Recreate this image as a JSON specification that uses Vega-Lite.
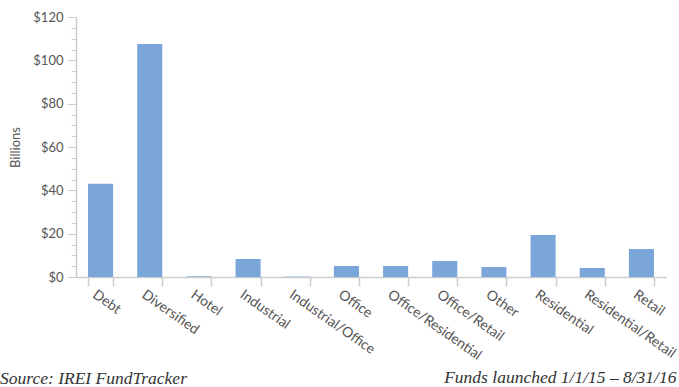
{
  "$schema": "https://vega.github.io/schema/vega-lite/v6.json",
  "width": 590,
  "height": 260,
  "autosize": {"type": "none"},
  "padding": {"left": 76, "top": 17, "right": 13, "bottom": 110},
  "background": "white",
  "title": {
    "text": "Source: IREI FundTracker",
    "orient": "bottom",
    "anchor": "start",
    "frame": "group",
    "dx": -76,
    "dy": -20,
    "font": "Liberation Serif",
    "fontStyle": "italic",
    "fontWeight": "normal",
    "fontSize": 17.5,
    "color": "#333"
  },
  "data": {
    "values": [
      {"type": "Debt", "value": 43},
      {"type": "Diversified", "value": 107.5},
      {"type": "Hotel", "value": 0.3},
      {"type": "Industrial", "value": 8.3},
      {"type": "Industrial/Office", "value": 0.2},
      {"type": "Office", "value": 5.1},
      {"type": "Office/Residential", "value": 5.1},
      {"type": "Office/Retail", "value": 7.4},
      {"type": "Other", "value": 4.6},
      {"type": "Residential", "value": 19.4},
      {"type": "Residential/Retail", "value": 4.1},
      {"type": "Retail", "value": 12.9}
    ]
  },
  "mark": {"type": "bar", "color": "#7ba6da"},
  "encoding": {
    "x": {
      "field": "type",
      "type": "nominal",
      "sort": null,
      "scale": {"paddingInner": 0.49, "paddingOuter": 0.245},
      "axis": {
        "title": "Funds launched 1/1/15 – 8/31/16",
        "titleAnchor": "end",
        "titleAlign": "right",
        "titleX": 600,
        "titleY": 105,
        "titleBaseline": "alphabetic",
        "titleFont": "Liberation Serif",
        "titleFontStyle": "italic",
        "titleFontWeight": "normal",
        "titleFontSize": 17.5,
        "titleColor": "#333",
        "labelAngle": 35,
        "labelAlign": "left",
        "labelBaseline": "middle",
        "labelFont": "Lato",
        "labelFontSize": 14,
        "labelColor": "#555",
        "labelPadding": 7,
        "labelOffset": -7,
        "tickBand": "extent",
        "tickSize": 9,
        "tickColor": "#ccc",
        "tickWidth": 1.5,
        "domainColor": "#ccc",
        "domainWidth": 1.5,
        "labelOverlap": false
      }
    },
    "y": {
      "field": "value",
      "type": "quantitative",
      "scale": {"domain": [0, 120], "nice": false},
      "axis": {
        "title": "Billions",
        "titleFont": "Lato",
        "titleFontSize": 13,
        "titleFontWeight": "normal",
        "titleColor": "#555",
        "titlePadding": 10,
        "values": [0,5,10,15,20,25,30,35,40,45,50,55,60,65,70,75,80,85,90,95,100,105,110,115,120],
        "labelExpr": "datum.value % 20 === 0 ? '$' + datum.value : ''",
        "labelFont": "Lato",
        "labelFontSize": 13,
        "labelColor": "#555",
        "labelPadding": 4,
        "tickSize": {"condition": {"test": "datum.value % 20 === 0", "value": 9}, "value": 5},
        "tickColor": "#ccc",
        "tickWidth": 1,
        "domainColor": "#ccc",
        "domainWidth": 1.5,
        "grid": false
      }
    }
  },
  "config": {"view": {"stroke": null}}
}
